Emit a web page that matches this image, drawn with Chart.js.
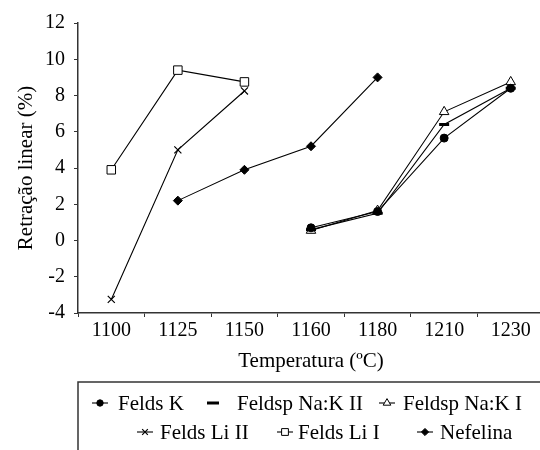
<!DOCTYPE html>
<html>
<head>
<meta charset="utf-8">
<script src="https://cdn.jsdelivr.net/npm/chart.js@4"></script>
<style>
  html, body { margin: 0; padding: 0; background: #fff; overflow: hidden; }
  #wrap { width: 552px; height: 450px; }
</style>
</head>
<body>
<div id="wrap"><canvas id="chart" width="552" height="450"></canvas></div>
<script>
// Data
const temperatures = ['1100', '1125', '1150', '1160', '1180', '1210', '1230']
const feldsK = [null, null, null, 0.7, 1.6, 5.65, 8.4]
const feldspNaK2 = [null, null, null, 0.6, 1.5, 6.4, 8.4]
const feldspNaK1 = [null, null, null, 0.55, 1.65, 7.1, 8.75]
const feldsLi2 = [-3.25, 5.0, 8.25, null, null, null, null]
const feldsLi1 = [3.9, 9.4, 8.75, null, null, null, null]
const nefelina = [null, 2.2, 3.9, 5.2, 9.0, null, null]
const yTicks = [-4, -2, 0, 2, 4, 6, 8, 10, 12]

const FONT = '"Liberation Serif", "Times New Roman", serif'

// legend placement (marker centre / text start, row)
const legendLayout = [
  { row: 0, marker: 100, text: 118 },
  { row: 0, marker: 213, text: 237 },
  { row: 0, marker: 387, text: 403 },
  { row: 1, marker: 145, text: 160 },
  { row: 1, marker: 285, text: 298 },
  { row: 1, marker: 425, text: 440 },
]
const legendRows = [403, 432]

function series(label, data, pointStyle, radius, fill, borderWidth) {
  return {
    label,
    data,
    pointStyle,
    pointRadius: radius,
    pointHoverRadius: radius,
    pointBackgroundColor: fill,
    pointBorderColor: '#000',
    pointBorderWidth: borderWidth,
    borderColor: '#000',
    borderWidth: 1.1,
    fill: false,
    tension: 0,
  }
}

/*--------------------------------------------
  Box legend below the chart
---------------------------------------------*/
const boxLegend = {
  id: 'boxLegend',
  afterDraw(chart) {
    const ctx = chart.ctx
    ctx.save()
    ctx.strokeStyle = '#333'
    ctx.lineWidth = 1.5
    ctx.strokeRect(chart.chartArea.left, 382, chart.width, 200)

    chart.data.datasets.forEach((ds, i) => {
      const pos = legendLayout[i]
      const y = legendRows[pos.row]
      ctx.strokeStyle = '#000'
      ctx.lineWidth = 1.1
      if (ds.pointStyle !== 'line') {
        ctx.beginPath()
        ctx.moveTo(pos.marker - 8, y)
        ctx.lineTo(pos.marker + 8, y)
        ctx.stroke()
      }
      ctx.fillStyle = ds.pointBackgroundColor
      ctx.lineWidth = ds.pointBorderWidth
      Chart.helpers.drawPoint(ctx, {
        pointStyle: ds.pointStyle,
        radius: ds.pointStyle === 'line' ? 6 : ds.pointRadius * 0.8,
        borderWidth: ds.pointBorderWidth,
        rotation: 0,
      }, pos.marker, y)

      ctx.fillStyle = '#000'
      ctx.font = `21px ${FONT}`
      ctx.textBaseline = 'middle'
      ctx.textAlign = 'left'
      ctx.fillText(ds.label, pos.text, y + 1)
    })
    ctx.restore()
  },
}

new Chart(document.getElementById('chart'), {
  type: 'line',
  data: {
    labels: temperatures,
    datasets: [
      series('Felds K', feldsK, 'circle', 4, '#000', 1),
      series('Feldsp Na:K II', feldspNaK2, 'line', 5, '#000', 3),
      series('Feldsp Na:K I', feldspNaK1, 'triangle', 5.5, '#fff', 1),
      series('Felds Li II', feldsLi2, 'crossRot', 5, '#000', 1.2),
      series('Felds Li I', feldsLi1, 'rect', 6, '#fff', 1),
      series('Nefelina', nefelina, 'rectRot', 4.5, '#000', 1),
    ],
  },
  options: {
    responsive: false,
    animation: false,
    devicePixelRatio: 1,
    layout: { padding: { top: 23, right: 2, bottom: 0, left: 0 } },
    plugins: {
      legend: { display: false },
      tooltip: { enabled: false },
    },
    scales: {
      x: {
        offset: true,
        grid: { offset: true, drawOnChartArea: false, drawTicks: true, tickLength: 4, color: '#333' },
        border: { display: true, color: '#333', width: 1.5 },
        ticks: { color: '#000', font: { family: FONT, size: 20 }, padding: 2, maxRotation: 0, autoSkip: false },
        title: {
          display: true,
          text: 'Temperatura (ºC)',
          color: '#000',
          font: { family: FONT, size: 21 },
          padding: { top: 0, bottom: 76 },
        },
        afterFit(scale) {
          scale.height = 137
        },
      },
      y: {
        min: -4,
        max: 12,
        afterBuildTicks(scale) {
          scale.ticks = yTicks.map((v) => ({ value: v }))
        },
        grid: { drawOnChartArea: false, drawTicks: true, tickLength: 4, color: '#333' },
        border: { display: true, color: '#333', width: 1.5 },
        ticks: { color: '#000', font: { family: FONT, size: 20 }, padding: 9 },
        title: {
          display: true,
          text: 'Retração linear (%)',
          color: '#000',
          font: { family: FONT, size: 21 },
          padding: { top: 14, bottom: 0 },
        },
        afterFit(scale) {
          scale.width = 78
        },
      },
    },
  },
  plugins: [boxLegend],
})
</script>
</body>
</html>
